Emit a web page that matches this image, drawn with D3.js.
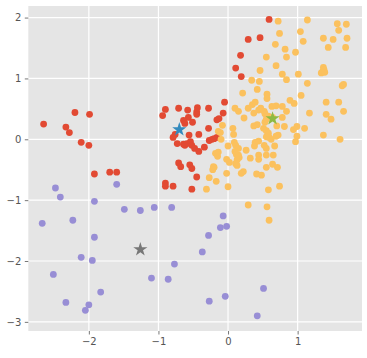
<!DOCTYPE html>
<html><head><meta charset="utf-8">
<script src="https://cdn.jsdelivr.net/npm/d3@7"></script>
<style>body{margin:0;background:#fff}svg{display:block}</style>
</head><body>
<svg id="c" width="367" height="358"></svg>
<script>
const xTicks = [-2, -1, 0, 1];
const yTicks = [2, 1, 0, -1, -2, -3];

const redPts = [[-2.65,0.25],[-2.33,0.20],[-2.28,0.11],[-2.20,0.44],[-1.99,0.41],[-2.11,-0.05],[-2.00,-0.10],[-1.92,-0.57],[-1.70,-0.54],[-1.60,-0.54],
[-0.90,0.49],[-0.94,0.39],[-0.71,0.51],[-0.58,0.48],[-0.44,0.52],[-0.45,0.45],[-0.45,0.41],[-0.28,0.51],[-0.16,0.32],[-0.13,0.34],[-0.05,0.61],[-0.07,0.43],
[-0.57,0.36],[-0.64,0.31],[-0.62,0.26],[-0.51,0.28],[-0.28,0.18],[-0.76,0.08],[-0.79,0.03],[-0.56,0.07],[-0.42,0.08],[-0.23,0.0],[-0.27,-0.02],[-0.16,0.03],[-0.20,0.01],
[-0.73,-0.07],[-0.64,-0.08],[-0.62,-0.10],[-0.59,-0.07],[-0.54,-0.04],[-0.52,-0.10],[-0.48,-0.15],[-0.42,-0.20],[-0.34,-0.13],
[-0.71,-0.39],[-0.68,-0.45],[-0.55,-0.42],[-0.52,-0.48],[-0.45,-0.62],[-0.90,-0.72],[-0.90,-0.77],[-0.79,-0.77],[-0.52,-0.82],
[0.11,1.17],[0.19,1.03],[0.18,1.38],[0.29,1.64],[0.46,1.67],[0.59,1.97]];

const yellowPts = [[0.72,1.94],[0.74,1.74],[0.68,1.56],[0.82,1.48],[0.84,1.35],[0.55,1.35],[0.69,1.21],[0.46,1.13],[0.78,1.07],[0.84,0.98],[0.34,0.97],[0.45,0.95],[0.21,0.76],[0.42,0.82],[0.56,0.74],[0.56,0.67],[0.97,1.43],[1.04,1.77],[1.08,1.61],[1.14,1.96],[1.01,1.07],[1.14,0.92],[1.05,0.72],[1.37,1.66],[1.44,1.51],[1.51,1.64],[1.57,1.90],[1.70,1.89],[1.59,1.79],[1.71,1.66],[1.69,1.51],[1.37,1.18],[1.36,1.11],[1.34,1.09],[1.38,1.14],[1.39,1.10],[1.66,0.90],[1.64,0.88],
[0.89,0.64],[0.95,0.59],[1.41,0.61],[1.59,0.61],[0.78,0.54],[0.84,0.46],[1.17,0.43],[1.41,0.41],[1.48,0.33],[1.66,0.46],[0.78,0.36],[0.81,0.21],[0.94,0.16],[0.99,0.21],[1.10,0.18],[0.99,0.05],[0.97,-0.04],[1.37,0.07],[1.61,0.00],
[0.10,0.51],[0.15,0.46],[0.29,0.51],[0.35,0.57],[0.39,0.61],[0.37,0.43],[0.44,0.48],[0.47,0.51],[0.52,0.46],[0.63,0.54],[0.69,0.55],[0.23,0.35],[0.07,0.18],[-0.08,0.23],[0.37,0.22],[0.42,0.24],[0.53,0.28],[0.51,0.18],[0.55,0.14],[0.58,0.10],[0.55,0.04],[0.72,0.07],[0.70,0.22],[-0.11,0.11],[0.08,0.08],[-0.10,0.00],[0.58,0.38],[0.55,0.33],[0.64,0.36],[0.53,0.42],[0.62,0.00],
[0.09,-0.05],[0.11,-0.10],[0.15,-0.15],[0.00,-0.11],[0.26,-0.18],[0.38,-0.11],[0.39,-0.05],[0.44,-0.03],[0.52,-0.10],[0.55,-0.15],[0.67,-0.11],[0.59,0.03],[0.69,0.05],
[-0.18,-0.23],[-0.15,-0.28],[0.12,-0.25],[0.16,-0.30],[0.44,-0.26],[0.44,-0.33],[0.55,-0.26],[0.65,-0.26],[0.13,-0.34],[0.15,-0.26],[0.10,-0.20],[0.32,-0.31],
[-0.02,-0.33],[0.02,-0.38],[0.11,-0.40],[0.13,-0.43],[-0.20,-0.46],[-0.22,-0.50],[0.64,-0.41],[0.71,-0.46],[0.22,-0.53],[0.19,-0.56],[-0.02,-0.56],[0.55,-0.46],
[-0.27,-0.63],[-0.17,-0.69],[0.00,-0.78],[-0.31,-0.82],[0.41,-0.57],[0.48,-0.59],[0.58,-0.83],[0.74,-0.77],[0.29,-1.08],[0.56,-1.11],[0.59,-1.33],
[-0.14,0.13],[-0.14,-0.21],[-0.21,-0.45]];

const purplePts = [[-2.67,-1.38],[-2.48,-0.80],[-2.41,-0.95],[-2.23,-1.33],[-2.51,-2.22],[-2.33,-2.68],[-2.11,-1.94],[-2.00,-2.72],[-2.05,-2.81],[-1.95,-1.99],[-1.92,-1.61],[-1.92,-1.02],[-1.83,-2.51],[-1.60,-0.74],[-1.49,-1.15],[-1.26,-1.17],[-1.06,-1.12],[-0.81,-1.12],[-1.10,-2.28],[-0.86,-2.30],[-0.77,-2.05],[-0.37,-1.85],[-0.28,-1.58],[-0.11,-1.45],[-0.07,-1.26],[-0.02,-1.43],[-0.27,-2.66],[-0.04,-2.58],[0.51,-2.45],[0.42,-2.90]];

const centers = [[-0.70,0.16],[-1.26,-1.81],[0.64,0.34]];

const svg = d3.select('#c');
const L=28.3, R=362, T=6, B=331;
const x = d3.scaleLinear().domain([-2.87,1.925]).range([L,R]);
const y = d3.scaleLinear().domain([-3.15,2.19]).range([B,T]);

svg.append('rect').attr('x',L).attr('y',T).attr('width',R-L).attr('height',B-T).attr('fill','#E5E5E5');
const g = svg.append('g');
g.selectAll('.gx').data(xTicks).join('line').attr('x1',d=>x(d)).attr('x2',d=>x(d)).attr('y1',T).attr('y2',B).attr('stroke','#fff').attr('stroke-width',1.2);
g.selectAll('.gy').data(yTicks).join('line').attr('y1',d=>y(d)).attr('y2',d=>y(d)).attr('x1',L).attr('x2',R).attr('stroke','#fff').attr('stroke-width',1.2);

const fmt = d => (d<0?'\u2212':'')+Math.abs(d);
const xa = svg.append('g').attr('transform',`translate(0,${B})`).call(d3.axisBottom(x).tickValues(xTicks).tickFormat(fmt).tickSize(3.5).tickPadding(3.5));
const ya = svg.append('g').attr('transform',`translate(${L},0)`).call(d3.axisLeft(y).tickValues(yTicks).tickFormat(fmt).tickSize(3.5).tickPadding(3.5));
[xa,ya].forEach(a=>{a.select('.domain').remove();a.selectAll('line').attr('stroke','#555').attr('stroke-width',0.8);a.selectAll('text').attr('fill','#555').style('font-family','DejaVu Sans').style('font-size','10px');});

const star = d3.symbol().type(d3.symbolStar).size(62);
const r = 3.4;
function dots(data,col){svg.append('g').selectAll('circle').data(data).join('circle').attr('cx',d=>x(d[0])).attr('cy',d=>y(d[1])).attr('r',r).attr('fill',col);}
function st(d,col){svg.append('path').attr('d',star()).attr('transform',`translate(${x(d[0])},${y(d[1])})`).attr('fill',col);}
dots(redPts,'#E24A33'); st(centers[0],'#348ABD');
dots(purplePts,'#988ED5'); st(centers[1],'#777777');
dots(yellowPts,'#FBC15E'); st(centers[2],'#8EBA42');
</script>
</body></html>
